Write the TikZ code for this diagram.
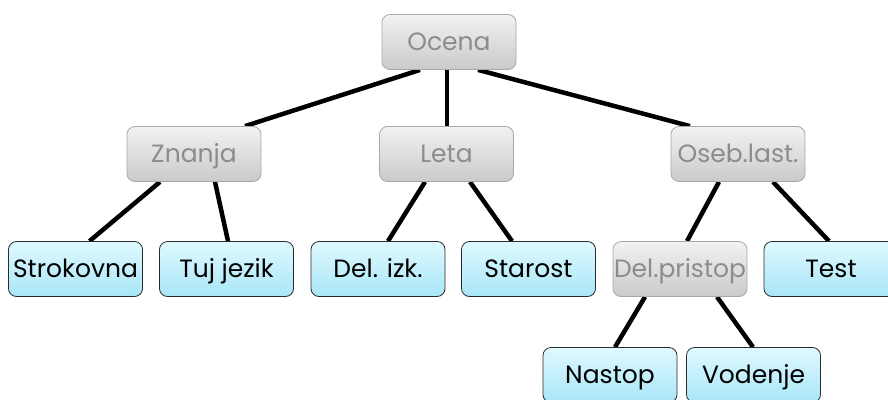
\documentclass[tikz,border=0pt]{standalone}
\usepackage{fontspec}
\setmainfont{Poppins}
\usetikzlibrary{backgrounds}
\definecolor{grayTop}{HTML}{F2F2F2}
\definecolor{grayBot}{HTML}{CACACA}
\definecolor{grayLine}{HTML}{A8A8A8}
\definecolor{grayText}{HTML}{8C8C8C}
\definecolor{blueTop}{HTML}{E0F9FF}
\definecolor{blueBot}{HTML}{A8E6F8}
\definecolor{blueLine}{HTML}{2A2A2A}
\tikzset{
  box/.style={rounded corners=8pt, minimum width=134pt, minimum height=55pt,
    inner sep=1pt, font=\fontsize{25}{28}\selectfont, anchor=center,
    text height=20pt, text depth=2.5pt},
  graybox/.style={box, draw=grayLine, line width=0.8pt, top color=grayTop, bottom color=grayBot, text=grayText},
  bluebox/.style={box, draw=blueLine, line width=0.8pt, top color=blueTop, bottom color=blueBot, text=black},
  conn/.style={line width=4.5pt, black}
}
\begin{document}
\begin{tikzpicture}[x=1pt,y=-1pt]
\useasboundingbox (0,0) rectangle (888,399);
\node[graybox] (ocena) at (449,42) {Ocena};
\node[graybox] (znanja) at (194,154) {Znanja};
\node[graybox] (leta) at (446.5,154) {Leta};
\node[graybox] (oseb) at (738,154) {Oseb.last.};
\node[bluebox] (strok) at (75.5,269) {Strokovna};
\node[bluebox] (tuj) at (226.5,269) {Tuj jezik};
\node[bluebox] (delizk) at (378,269) {Del. izk.};
\node[bluebox] (starost) at (528.5,269) {Starost};
\node[graybox] (delpr) at (680,269) {Del.pristop};
\node[bluebox] (test) at (831,269) {Test};
\node[bluebox] (nastop) at (610,375) {Nastop};
\node[bluebox] (vodenje) at (753.5,375) {Vodenje};
\begin{scope}[on background layer]
\draw[conn] ([xshift=-29pt]ocena.south) -- ([xshift=51pt]znanja.north);
\draw[conn] ([xshift=-2pt]ocena.south) -- ([xshift=0.5pt]leta.north);
\draw[conn] ([xshift=29pt]ocena.south) -- ([xshift=-48pt]oseb.north);
\draw[conn] ([xshift=-34pt]znanja.south) -- ([xshift=14pt]strok.north);
\draw[conn] ([xshift=21pt]znanja.south) -- ([xshift=1.5pt]tuj.north);
\draw[conn] ([xshift=-21.5pt]leta.south) -- ([xshift=10pt]delizk.north);
\draw[conn] ([xshift=23.5pt]leta.south) -- ([xshift=-16.5pt]starost.north);
\draw[conn] ([xshift=-19pt]oseb.south) -- ([xshift=7pt]delpr.north);
\draw[conn] ([xshift=35pt]oseb.south) -- ([xshift=-2pt]test.north);
\draw[conn] ([xshift=-35pt]delpr.south) -- ([xshift=5pt]nastop.north);
\draw[conn] ([xshift=37pt]delpr.south) -- ([xshift=-0.5pt]vodenje.north);
\end{scope}
\end{tikzpicture}
\end{document}
